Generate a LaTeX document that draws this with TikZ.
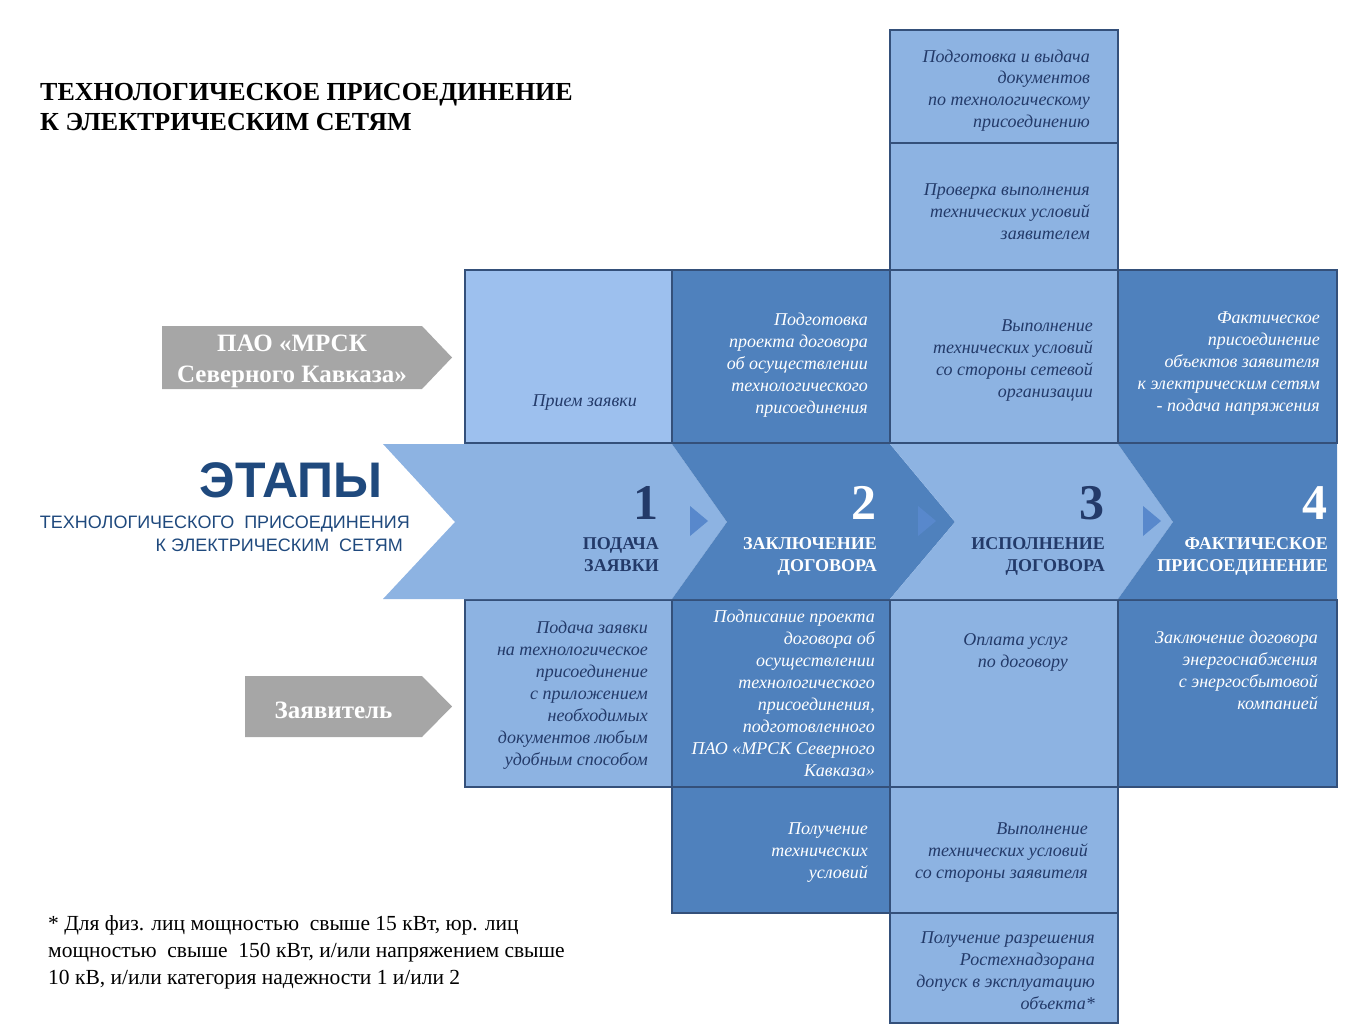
\documentclass[tikz,border=0pt]{standalone}
\usepackage{fontspec}
\setmainfont{Liberation Serif}
\setsansfont{Liberation Sans}
\usepackage{tikz}
\usetikzlibrary{positioning}
\definecolor{paleBlue}{RGB}{157,192,238}
\definecolor{lightBlue}{RGB}{141,179,226}
\definecolor{darkBlue}{RGB}{79,129,189}
\definecolor{edgeBlue}{RGB}{52,80,122}
\definecolor{inkBlue}{RGB}{35,58,105}
\definecolor{titleBlue}{RGB}{31,73,125}
\definecolor{tipBlue}{RGB}{88,136,204}
\definecolor{arrowGrey}{RGB}{166,166,166}
\tikzstyle{sheet} = [x = 1pt, y = -1pt]
\tikzstyle{paleCell} = [fill=paleBlue, draw=edgeBlue, line width=1.6pt]
\tikzstyle{lightCell} = [fill=lightBlue, draw=edgeBlue, line width=1.6pt]
\tikzstyle{darkCell} = [fill=darkBlue, draw=edgeBlue, line width=1.6pt]
\tikzstyle{cellFont} = [font=\fontsize{18}{22}\selectfont\itshape, align=right, anchor=base east, inner sep=0]
\tikzstyle{inkText} = [cellFont, text=inkBlue]
\tikzstyle{whiteText} = [cellFont, text=white]
\tikzstyle{stageNumber} = [font=\fontsize{50}{50}\selectfont\bfseries, anchor=base east, inner sep=0]
\tikzstyle{stageName} = [font=\fontsize{18}{22}\selectfont\bfseries, align=right, anchor=base east, inner sep=0]
\tikzstyle{greyArrow} = [fill=arrowGrey]
\tikzstyle{greyText} = [font=\fontsize{25}{31}\selectfont\bfseries, text=white, align=center]
% the base of a text of several lines is its last line
\newcommand{\cellBox}[5]{\filldraw [#1] (#2, #3) rectangle (#4, #5);}
\newcommand{\cellLabel}[5]{\node [#1] (#2) at (#3, #4) {#5};}
\newcommand{\stageArrow}[5]{\fill [#1] (#2, 444) -- (#3, 444) -- + (#5, 78) -- (#3, 599) -- (#2, 599) -- + (#4, -77) -- cycle;}
\newcommand{\stagePoint}[1]{\fill [tipBlue] (#1, 506) -- + (18, 15) -- + (0, 30) -- cycle;}
\newcommand{\stageLabel}[5]{
  \node [stageNumber, text=#2] (#1Number) at (#3, 519) {#4};
  \node [stageName, text=#2] (#1Name) at (#3, 571) {#5};
}
\newcommand{\greyPointer}[5]{
  \fill [greyArrow] (#2, #3) -- (422, #3) -- (452, #3 / 2 + #4 / 2) -- (422, #4) -- (#2, #4) -- cycle;
  \node [greyText] (#1) at (#2 / 2 + 211, #3 / 2 + #4 / 2 + 4) {#5};
}

\begin{document}
\begin{tikzpicture}[sheet]
  \useasboundingbox (0, 0) rectangle (1358, 1033);

  % cells above the stages
  \cellBox{lightCell}{890}{30}{1118}{143}
  \cellBox{lightCell}{890}{143}{1118}{270}
  \cellBox{paleCell}{465}{270}{672}{443}
  \cellBox{darkCell}{672}{270}{890}{443}
  \cellBox{lightCell}{890}{270}{1118}{443}
  \cellBox{darkCell}{1118}{270}{1337}{443}
  % cells below the stages
  \cellBox{lightCell}{465}{600}{672}{787}
  \cellBox{darkCell}{672}{600}{890}{787}
  \cellBox{lightCell}{890}{600}{1118}{787}
  \cellBox{darkCell}{1118}{600}{1337}{787}
  \cellBox{darkCell}{672}{787}{890}{913}
  \cellBox{lightCell}{890}{787}{1118}{913}
  \cellBox{lightCell}{890}{913}{1118}{1023}

  % stage band
  \stageArrow{lightBlue}{383}{672}{72}{55}
  \stageArrow{darkBlue}{672}{890}{55}{65}
  \stageArrow{lightBlue}{890}{1118}{65}{55}
  \stageArrow{darkBlue}{1118}{1337}{55}{0}
  \stagePoint{690}
  \stagePoint{918}
  \stagePoint{1143}
  \stageLabel{first}{inkBlue}{659}{1}{ПОДАЧА\\ЗАЯВКИ}
  \stageLabel{second}{white}{877}{2}{ЗАКЛЮЧЕНИЕ\\ДОГОВОРА}
  \stageLabel{third}{inkBlue}{1105}{3}{ИСПОЛНЕНИЕ\\ДОГОВОРА}
  \stageLabel{fourth}{white}{1328}{4}{ФАКТИЧЕСКОЕ\\ПРИСОЕДИНЕНИЕ}

  % headings
  \node [font=\fontsize{26}{30}\selectfont\bfseries, align=left, anchor=base west, inner sep=0] (title) at (40, 130) {ТЕХНОЛОГИЧЕСКОЕ ПРИСОЕДИНЕНИЕ\\К ЭЛЕКТРИЧЕСКИМ СЕТЯМ};
  \node [font=\sffamily\bfseries\fontsize{50}{50}\selectfont, text=titleBlue, anchor=base east, inner sep=0] (stages) at (383, 497) {ЭТАПЫ};
  \node [font=\sffamily\fontsize{18}{23}\selectfont, text=titleBlue, align=right, anchor=base east, inner sep=0] (stagesSub) at (410, 551) {ТЕХНОЛОГИЧЕСКОГО\ \ ПРИСОЕДИНЕНИЯ\\К ЭЛЕКТРИЧЕСКИМ\ \ СЕТЯМ\hspace*{7pt}};
  \greyPointer{company}{162}{326}{389}{ПАО «МРСК\\Северного Кавказа»}
  \greyPointer{applicant}{245}{676}{737}{Заявитель}

  % cell texts
  \cellLabel{inkText}{issueDocs}{1090}{128}{Подготовка и выдача\\документов\\по технологическому\\присоединению}
  \cellLabel{inkText}{checkTerms}{1090}{239}{Проверка выполнения\\технических условий\\заявителем}
  \cellLabel{inkText}{receive}{637}{406}{Прием заявки}
  \cellLabel{whiteText}{draftContract}{868}{413}{Подготовка\\проекта договора\\об осуществлении\\технологического\\присоединения}
  \cellLabel{inkText}{gridWork}{1093}{397}{Выполнение\\технических условий\\со стороны сетевой\\организации}
  \cellLabel{whiteText}{connect}{1320}{411}{Фактическое\\присоединение\\объектов заявителя\\к электрическим сетям\\- подача напряжения}
  \cellLabel{inkText}{submit}{648}{765}{Подача заявки\\на технологическое\\присоединение\\с приложением\\необходимых\\документов любым\\удобным способом}
  \cellLabel{whiteText}{signContract}{875}{776}{Подписание проекта\\договора об\\осуществлении\\технологического\\присоединения,\\подготовленного\\ПАО «МРСК Северного\\Кавказа»}
  \cellLabel{inkText}{payment}{1068}{667}{Оплата услуг\\по договору}
  \cellLabel{whiteText}{supplyContract}{1318}{709}{Заключение договора\\энергоснабжения\\с энергосбытовой\\компанией}
  \cellLabel{whiteText}{receiveTerms}{868}{878}{Получение\\технических\\условий}
  \cellLabel{inkText}{applicantWork}{1088}{878}{Выполнение\\технических условий\\со стороны заявителя}
  \cellLabel{inkText}{permit}{1095}{1009}{Получение разрешения\\Ростехнадзорана\\допуск в эксплуатацию\\объекта*}

  % footnote
  \node [font=\fontsize{21.5}{27}\selectfont, align=left, anchor=base west, inner sep=0] (footnote) at (48, 984) {* Для физ. лиц мощностью\ \ свыше 15 кВт, юр. лиц\\мощностью\ \ свыше\ \ 150 кВт, и/или напряжением свыше\\10 кВ, и/или категория надежности 1 и/или 2};
\end{tikzpicture}
\end{document}
